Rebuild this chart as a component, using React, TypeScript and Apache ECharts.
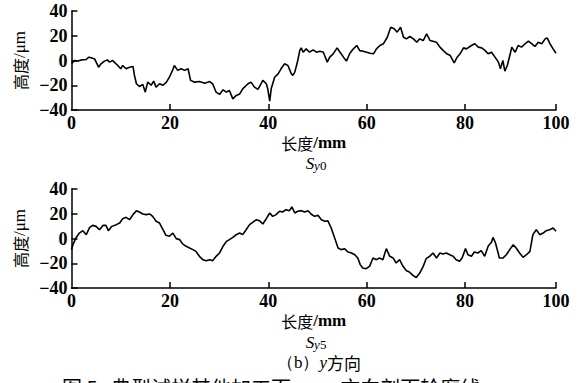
import React, { useEffect, useRef } from "react";
import * as echarts from "echarts";

// Top profile (Sy0)
const topX = [0,0.6,1.3,2.0,3.0,3.5,4.0,4.7,5.5,6.0,6.7,7.3,7.7,8.4,8.7,9.4,10.0,10.4,11.1,11.8,12.5,12.8,13.2,13.8,14.5,15.0,15.5,16.2,16.7,17.2,17.9,18.6,19.3,19.9,20.6,20.9,21.6,22.3,23.0,23.7,24.2,25.0,26.0,27.1,28.1,28.7,29.4,30.1,30.8,31.5,32.1,32.8,33.5,34.2,34.8,35.9,36.5,37.2,37.9,38.6,38.9,39.6,39.9,40.3,40.6,41.3,42.0,42.6,43.3,44.0,44.7,45.0,45.4,46.0,46.4,46.7,47.1,47.7,48.4,49.1,49.8,
  50.5,51.2,52.0,52.5,53.2,54.0,54.6,55.3,55.9,56.6,57.3,58.0,58.6,59.3,60.0,60.7,61.4,62.0,62.7,63.4,64.2,64.9,65.6,66.2,66.9,67.5,68.1,68.8,69.5,70.2,70.8,71.5,72.2,72.9,73.5,74.2,74.9,75.6,76.3,77.0,77.8,78.4,79.0,79.7,80.3,81.3,82.0,82.7,83.4,84.1,84.7,85.4,86.1,86.8,87.2,87.7,88.1,88.6,89.2,89.5,90.2,90.8,91.5,92.2,92.9,93.6,94.2,94.9,95.6,96.3,96.7,97.3,97.9,98.5];
const topY = [-2.7,0,-0.5,0.5,0.8,2.7,2.2,1.3,-5.4,-2.7,-0.5,0.5,-1.3,0,-1.3,-4,-6.7,-4,-6.7,-5.4,-4.8,-12,-18.8,-21,-19.4,-25.6,-17.5,-20,-16.7,-21.5,-18.8,-20,-17.5,-13.5,-7.5,-4,-8,-6.7,-8,-6.7,-16,-17.5,-17,-18.3,-17,-18.8,-25.6,-27.4,-23.7,-25.6,-24.2,-31,-28.2,-27,-22.9,-18.8,-17.5,-21.5,-23.4,-18.3,-16,-18.8,-22.9,-32.8,-22.9,-13.5,-10.8,-6.7,-2.7,-4,-10.8,-12,-9.4,0,8,10.2,6.7,9.4,6.7,8.6,6.7,
  7.5,6.7,-1.3,2.7,5.4,10.2,6.7,2.7,-0.5,5.9,9.4,12.1,8,7.5,6.7,5.9,5.4,9.4,12.1,13.5,18.8,26.9,25.6,22.9,26.9,18.8,17.5,19.4,17.5,14.8,17.5,16.1,21.5,16.1,15.6,14.8,10.8,8,5.4,4,-1.9,2.7,5.4,10.2,9.4,12.1,13.5,10.8,10.2,8,5.4,6.7,2.7,-1.3,-6.7,0,-8.6,-4,5.4,10.8,6.7,12.1,10.8,13.5,15.6,13.5,11.3,14.8,13.5,17.5,18.3,13.5,9.4,5.9];

// Bottom profile (Sy5)
const botX = [0,0.3,0.9,1.6,2.3,3.0,3.7,4.3,5.0,5.7,6.4,7.0,7.5,8.2,9.1,9.8,10.4,11.1,11.8,12.5,13.2,13.8,14.5,15.2,15.9,16.5,17.2,17.9,18.6,19.2,19.9,20.6,21.3,22.0,22.6,23.3,24.0,24.7,25.3,26.0,26.7,27.4,28.1,28.7,29.4,30.1,30.8,31.5,32.1,32.8,33.5,34.2,34.8,35.5,36.2,36.9,37.6,38.2,38.9,39.6,40.3,40.9,41.6,42.3,42.9,43.6,44.3,44.8,45.4,46.0,46.7,47.4,48.1,48.7,49.4,50.1,50.8,51.5,52.1,52.8,53.5,54.2,54.8,55.5,56.2,56.9,57.6,58.2,58.7,59.2,59.9,60.6,61.3,62.0,62.6,63.3,64.0,64.7,65.4,66.0,66.7,67.4,68.1,68.7,69.4,70.1,70.8,71.5,72.1,72.8,73.5,74.2,74.9,75.5,76.2,76.9,77.6,78.2,78.9,79.4,80.1,80.6,81.3,81.9,82.6,83.3,84.0,84.7,85.4,85.7,86.2,87.0,87.7,88.4,89.1,89.8,90.4,91.1,91.8,92.5,93.2,93.8,94.5,95.2,95.9,96.5,97.2,97.9,98.5];
const botY = [-9,-5,0.4,4.4,6.3,3.1,9,10.6,9.8,7.1,10.6,10.6,6.3,9.8,11.2,12.5,16,17.1,15.2,19.3,22.5,21.4,19.8,19.3,19.8,17.9,13.9,12.5,7.1,2.6,1.8,4.4,-0.1,-0.9,-4.4,-6.3,-7.7,-9,-10.4,-14.4,-17.1,-17.9,-17.1,-17.9,-14.4,-11.7,-6.3,-2.3,-0.9,0.9,3.1,4.4,3.1,7.1,11.2,13.3,15.2,14.4,11.7,16,20.6,17.9,19.3,22,21.4,23.3,22.5,25.5,20.6,22,22.5,21.4,22.5,19.8,17.9,18.7,15.2,13.9,14.4,8.5,0.4,-7.7,-9,-8.2,-10.9,-11.7,-13.1,-15.8,-21.1,-23.8,-24.4,-22.5,-15.8,-17.1,-15.8,-17.1,-8.2,-14.4,-15.8,-19.8,-17.1,-22.5,-26,-27.1,-29.8,-31.5,-27.9,-22.5,-16.3,-14.4,-11.7,-15.8,-11.7,-12.5,-11.7,-13.1,-14.4,-17.1,-18.4,-15.8,-8.2,-13.1,-14.4,-10.9,-11.7,-9.8,-14.4,-6.3,-2.8,0.9,-3.6,-15.8,-15.8,-13.1,-9,-5,-7.7,-11.7,-15.2,-13.1,-10.4,3.1,7.1,3.1,4.4,6.3,7.1,8.5,5.8];

// Axis ticks: the last tick sits at the end of the profile and is labelled 100
const xTickValues = [20, 40, 60, 80, 98.5];
const xLabelValues = [0, 20, 40, 60, 80, 98.5];
const yMin = -40;
const yMax = 40;

const SERIF = "'Liberation Serif', 'Times New Roman', serif";
const CJK = "'Noto Sans CJK SC', sans-serif";

export default function App() {
  const ref = useRef<HTMLDivElement>(null);
  useEffect(() => {
    if (!ref.current) return;
    const chart = echarts.init(ref.current, null, { renderer: "svg" });
    const axisLine = { lineStyle: { color: "#000", width: 1.5 } };
    const mkX = (gi: number) => ({
      type: "value",
      gridIndex: gi,
      min: 0,
      max: 98.5,
      axisLine: { ...axisLine, onZero: false },
      splitLine: { show: false },
      axisTick: { customValues: xTickValues, inside: true, length: 6, lineStyle: { color: "#000", width: 1.5 } },
      axisLabel: {
        customValues: xLabelValues,
        formatter: (v: number) => (v > 90 ? "100" : String(v)),
        color: "#000",
        fontFamily: SERIF,
        fontWeight: "bold",
        fontSize: 18,
        margin: 4,
      },
      name: "{c|长度}{l|/mm}",
      nameLocation: "middle",
      nameGap: 24,
      nameTextStyle: {
        color: "#000",
        rich: {
          c: { fontFamily: CJK, fontSize: 16, color: "#000" },
          l: { fontFamily: SERIF, fontSize: 17, fontWeight: "bold", color: "#000" },
        },
      },
    });
    const mkY = (gi: number) => ({
      type: "value",
      gridIndex: gi,
      min: yMin,
      max: yMax,
      interval: 20,
      axisLine: { ...axisLine, onZero: false },
      splitLine: { show: false },
      axisTick: { inside: true, length: 6, lineStyle: { color: "#000", width: 1.5 } },
      axisLabel: {
        formatter: (v: number) => String(v).replace("-", "\u2212"),
        color: "#000",
        fontFamily: SERIF,
        fontWeight: "bold",
        fontSize: 18,
        margin: 4,
      },
      name: "{c|高度}{l|/μm}",
      nameLocation: "middle",
      nameRotate: 90,
      nameGap: 38,
      nameTextStyle: {
        color: "#000",
        rich: {
          c: { fontFamily: CJK, fontSize: 16, color: "#000" },
          l: { fontFamily: SERIF, fontSize: 17, color: "#000" },
        },
      },
    });
    const line = (gi: number, xs: number[], ys: number[]) => ({
      type: "line",
      xAxisIndex: gi,
      yAxisIndex: gi,
      data: xs.map((x, i) => [x, ys[i]]),
      showSymbol: false,
      lineStyle: { color: "#000", width: 1.6 },
    });
    const subRich = {
      s: { fontFamily: SERIF, fontStyle: "italic", fontSize: 17, fill: "#000", verticalAlign: "bottom" },
      y: { fontFamily: SERIF, fontStyle: "italic", fontSize: 13, fill: "#000", verticalAlign: "bottom" },
      n: { fontFamily: SERIF, fontSize: 13, fill: "#000", verticalAlign: "bottom" },
    };
    chart.setOption({
      animation: false,
      grid: [
        { left: 71.5, right: 24, top: 11, height: 99 },
        { left: 71.5, right: 24, top: 189, height: 99 },
      ],
      xAxis: [mkX(0), mkX(1)],
      yAxis: [mkY(0), mkY(1)],
      series: [line(0, topX, topY), line(1, botX, botY)],
      graphic: [
        {
          type: "text",
          x: 316,
          y: 163,
          style: { text: "{s|S}{y|y}{n|0}", align: "center", verticalAlign: "middle", rich: subRich },
        },
        {
          type: "text",
          x: 316,
          y: 342,
          style: { text: "{s|S}{y|y}{n|5}", align: "center", verticalAlign: "middle", rich: subRich },
        },
        {
          type: "text",
          x: 319,
          y: 362,
          style: {
            text: "{a|（b）}{y|y}{c|方向}",
            align: "center",
            verticalAlign: "middle",
            rich: {
              a: { fontFamily: SERIF, fontSize: 17, fill: "#000" },
              y: { fontFamily: SERIF, fontStyle: "italic", fontSize: 17, fill: "#000" },
              c: { fontFamily: CJK, fontSize: 17, fill: "#000" },
            },
          },
        },
        {
          type: "text",
          x: 62,
          y: 377,
          style: {
            text: "图 5   典型试样其他加工面 x、y 方向剖面轮廓线",
            font: "20px 'Noto Sans CJK SC', sans-serif",
            fill: "#000",
            verticalAlign: "top",
          },
        },
      ],
    });
    return () => chart.dispose();
  }, []);
  return (
    <div
      ref={ref}
      style={{ position: "fixed", left: 0, top: 0, width: 580, height: 383, background: "#fff" }}
    />
  );
}
